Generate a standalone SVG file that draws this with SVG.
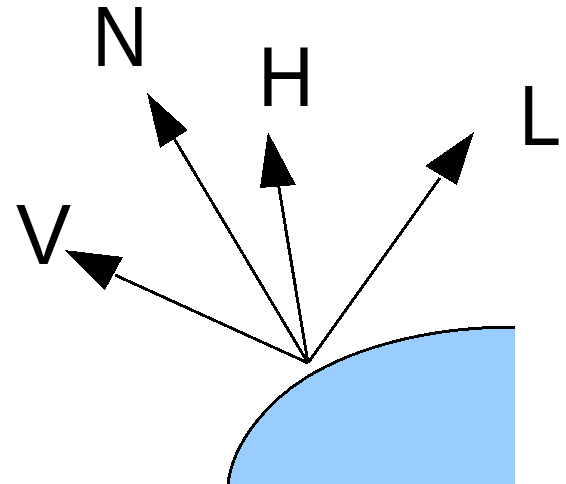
<svg xmlns="http://www.w3.org/2000/svg" width="566" height="484" viewBox="0 0 566 484">
<style>
.lbl{font-family:"Liberation Sans",Arial,sans-serif;font-size:86px;fill:#000}
.ln{stroke:#000;stroke-width:3;fill:none;shape-rendering:crispEdges}
.hd{fill:#000;shape-rendering:crispEdges}
</style>
<rect width="566" height="484" fill="#fff"/>
<g id="surface">
<path d="M228 484 C233 442 268 401 307 377 C350 351 420 327 515 327 L515 484 Z" fill="#99ccff" shape-rendering="crispEdges"/>
<path class="ln" d="M228 484 C233 442 268 401 307 377 C350 351 420 327 515 327"/>
</g>
<g id="connectors">
<line class="ln" x1="308" y1="363" x2="172" y2="135"/>
<line class="ln" x1="308" y1="363" x2="278" y2="182"/>
<line class="ln" x1="308" y1="363" x2="440" y2="178"/>
<line class="ln" x1="308" y1="363" x2="115" y2="275"/>
<polygon class="hd" points="147,93 188,130 160,148"/>
<polygon class="hd" points="268,132 296,185 260,188"/>
<polygon class="hd" points="474,132 457,185 425,166"/>
<polygon class="hd" points="64,250 123,257 105,290"/>
</g>
<g id="node-N"><text class="lbl" transform="translate(92 66) scale(.9 1)">N</text></g>
<g id="node-H"><text class="lbl" transform="translate(258 106) scale(.9 1)">H</text></g>
<g id="node-L"><text class="lbl" transform="translate(519 145) scale(.88 1)">L</text></g>
<g id="node-V"><text class="lbl" transform="translate(16 264) scale(.96 1)">V</text></g>
</svg>
